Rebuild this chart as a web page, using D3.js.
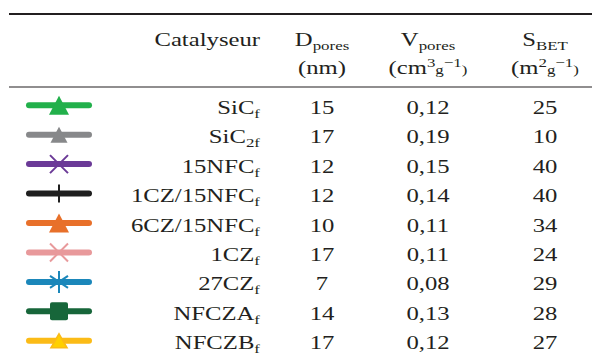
<!DOCTYPE html>
<html>
<head>
<meta charset="utf-8">
<script src="https://cdn.jsdelivr.net/npm/d3@7"></script>
<style>
	body { margin: 0; background: #fff; }
	svg { display: block; }
	text { font-family: 'Liberation Serif', 'DejaVu Serif', serif; fill: #231f20; }
</style>
</head>
<body>
<div id="table"></div>
<script>
// Catalyst names (base part, subscript part) and the three measured properties.
var catalystNames = ['SiC', 'SiC', '15NFC', '1CZ/15NFC', '6CZ/15NFC', '1CZ', '27CZ', 'NFCZA', 'NFCZB'];
var catalystSubs = ['f', '2f', 'f', 'f', 'f', 'f', 'f', 'f', 'f'];
var dPores = [15, 17, 12, 12, 10, 17, 7, 14, 17];
var vPores = [0.12, 0.19, 0.15, 0.14, 0.11, 0.11, 0.08, 0.13, 0.12];
var sBet = [25, 10, 40, 40, 34, 24, 29, 28, 27];

// Legend swatch style for each row.
var lineColors = ['#22b04b', '#87888a', '#6b3a97', '#1f1f1f', '#e8702a', '#e8999b', '#1b87ba', '#17663a', '#fbbb17'];
var markerTypes = ['triangle', 'triangleSmall', 'times', 'plus', 'triangle', 'times', 'asterisk', 'square', 'triangleOutlined'];

var w = 592, h = 358;
var svg = d3.select('#table').append('svg').attr('width', w).attr('height', h);

var rowIds = d3.range(catalystNames.length);
var y = d3.scaleBand().domain(rowIds).range([90.5, 355.5]);
var colX = d3.scaleOrdinal()
	.domain(['legendStart', 'legendEnd', 'marker', 'name', 'd', 'v', 's'])
	.range([29, 89, 59, 260, 322, 428, 545]);
var fr = d3.formatLocale({decimal: ',', thousands: ' ', grouping: [3], currency: ['', '']});
var fmtV = fr.format('.2f');

// The reference type is a wide Palatino; stretch Liberation Serif horizontally to match.
var fs = 19, subFs = 13, sx = 1.3;
var place = function(x, yy) { return 'translate(' + x + ',' + yy + ') scale(' + sx + ',1)'; };

// Rules
svg.append('line').attr('x1', 9).attr('x2', w).attr('y1', 14).attr('y2', 14)
	.attr('stroke', '#231f20').attr('stroke-width', 2);
svg.append('line').attr('x1', 9).attr('x2', w).attr('y1', 87).attr('y2', 87)
	.attr('stroke', '#231f20').attr('stroke-width', 1.2);

// Header
var header = svg.append('g').attr('font-size', fs);
header.append('text').attr('transform', place(colX('name'), 46)).attr('text-anchor', 'end').text('Catalyseur');

var addSubHeader = function(x, base, sub) {
	var t = header.append('text').attr('transform', place(x, 46)).attr('text-anchor', 'middle');
	t.append('tspan').text(base);
	t.append('tspan').attr('font-size', subFs).attr('dy', 4).text(sub);
	return t;
};
addSubHeader(colX('d'), 'D', 'pores');
addSubHeader(colX('v'), 'V', 'pores');
addSubHeader(colX('s'), 'S', 'BET');

var addUnit = function(x, parts) {
	var t = header.append('text').attr('transform', place(x, 74)).attr('text-anchor', 'middle');
	parts.forEach(function(p) {
		var ts = t.append('tspan').text(p[0]);
		if (p[1]) ts.attr('font-size', subFs).attr('dy', p[1]);
	});
};
addUnit(colX('d'), [['(nm)']]);
addUnit(colX('v'), [['(cm'], ['3', -7], ['g', 7], ['\u22121', -7], [')', 7]]);
addUnit(colX('s'), [['(m'], ['2', -7], ['g', 7], ['\u22121', -7], [')', 7]]);

// Rows
var rows = svg.selectAll('g.row').data(rowIds).enter().append('g')
	.attr('class', 'row')
	.attr('transform', function(i) { return 'translate(0,' + (y(i) + y.bandwidth() / 2) + ')'; });

rows.append('line')
	.attr('x1', colX('legendStart')).attr('x2', colX('legendEnd'))
	.attr('stroke', function(i) { return lineColors[i]; })
	.attr('stroke-width', 6).attr('stroke-linecap', 'round');

var markerPath = function(type) {
	switch (type) {
		case 'triangle': return 'M0,-9.5L10,9.5L-10,9.5Z';
		case 'triangleSmall': return 'M0,-8L8.5,8L-8.5,8Z';
		case 'triangleOutlined': return 'M0,-7L8,7L-8,7Z';
		case 'times': return 'M-9,-9L9,9M-9,9L9,-9';
		case 'plus': return 'M0,-9L0,9';
		case 'asterisk': return 'M0,-11L0,11M-9,-6L9,6M-9,6L9,-6';
		case 'square': return 'M-7,-9H7A2,2 0 0 1 9,-7V7A2,2 0 0 1 7,9H-7A2,2 0 0 1 -9,7V-7A2,2 0 0 1 -7,-9Z';
	}
};
rows.append('path')
	.attr('transform', 'translate(' + colX('marker') + ',0)')
	.attr('d', function(i) { return markerPath(markerTypes[i]); })
	.attr('fill', function(i) {
		var t = markerTypes[i];
		if (t === 'times' || t === 'plus' || t === 'asterisk') return 'none';
		if (t === 'triangleOutlined') return '#ffd000';
		return lineColors[i];
	})
	.attr('stroke', function(i) { return lineColors[i]; })
	.attr('stroke-width', function(i) {
		var t = markerTypes[i];
		return (t === 'times' || t === 'plus' || t === 'asterisk') ? 2 : (t === 'triangleOutlined' ? 1.6 : 0);
	});

var nameText = rows.append('text')
	.attr('transform', place(colX('name'), 8.5))
	.attr('text-anchor', 'end').attr('font-size', fs);
nameText.append('tspan').text(function(i) { return catalystNames[i]; });
nameText.append('tspan').attr('font-size', subFs).attr('dy', 4).text(function(i) { return catalystSubs[i]; });

rows.append('text').attr('transform', place(colX('d'), 8.5)).attr('text-anchor', 'middle')
	.attr('font-size', fs).text(function(i) { return dPores[i]; });
rows.append('text').attr('transform', place(colX('v'), 8.5)).attr('text-anchor', 'middle')
	.attr('font-size', fs).text(function(i) { return fmtV(vPores[i]); });
rows.append('text').attr('transform', place(colX('s'), 8.5)).attr('text-anchor', 'middle')
	.attr('font-size', fs).text(function(i) { return sBet[i]; });
</script>
</body>
</html>
